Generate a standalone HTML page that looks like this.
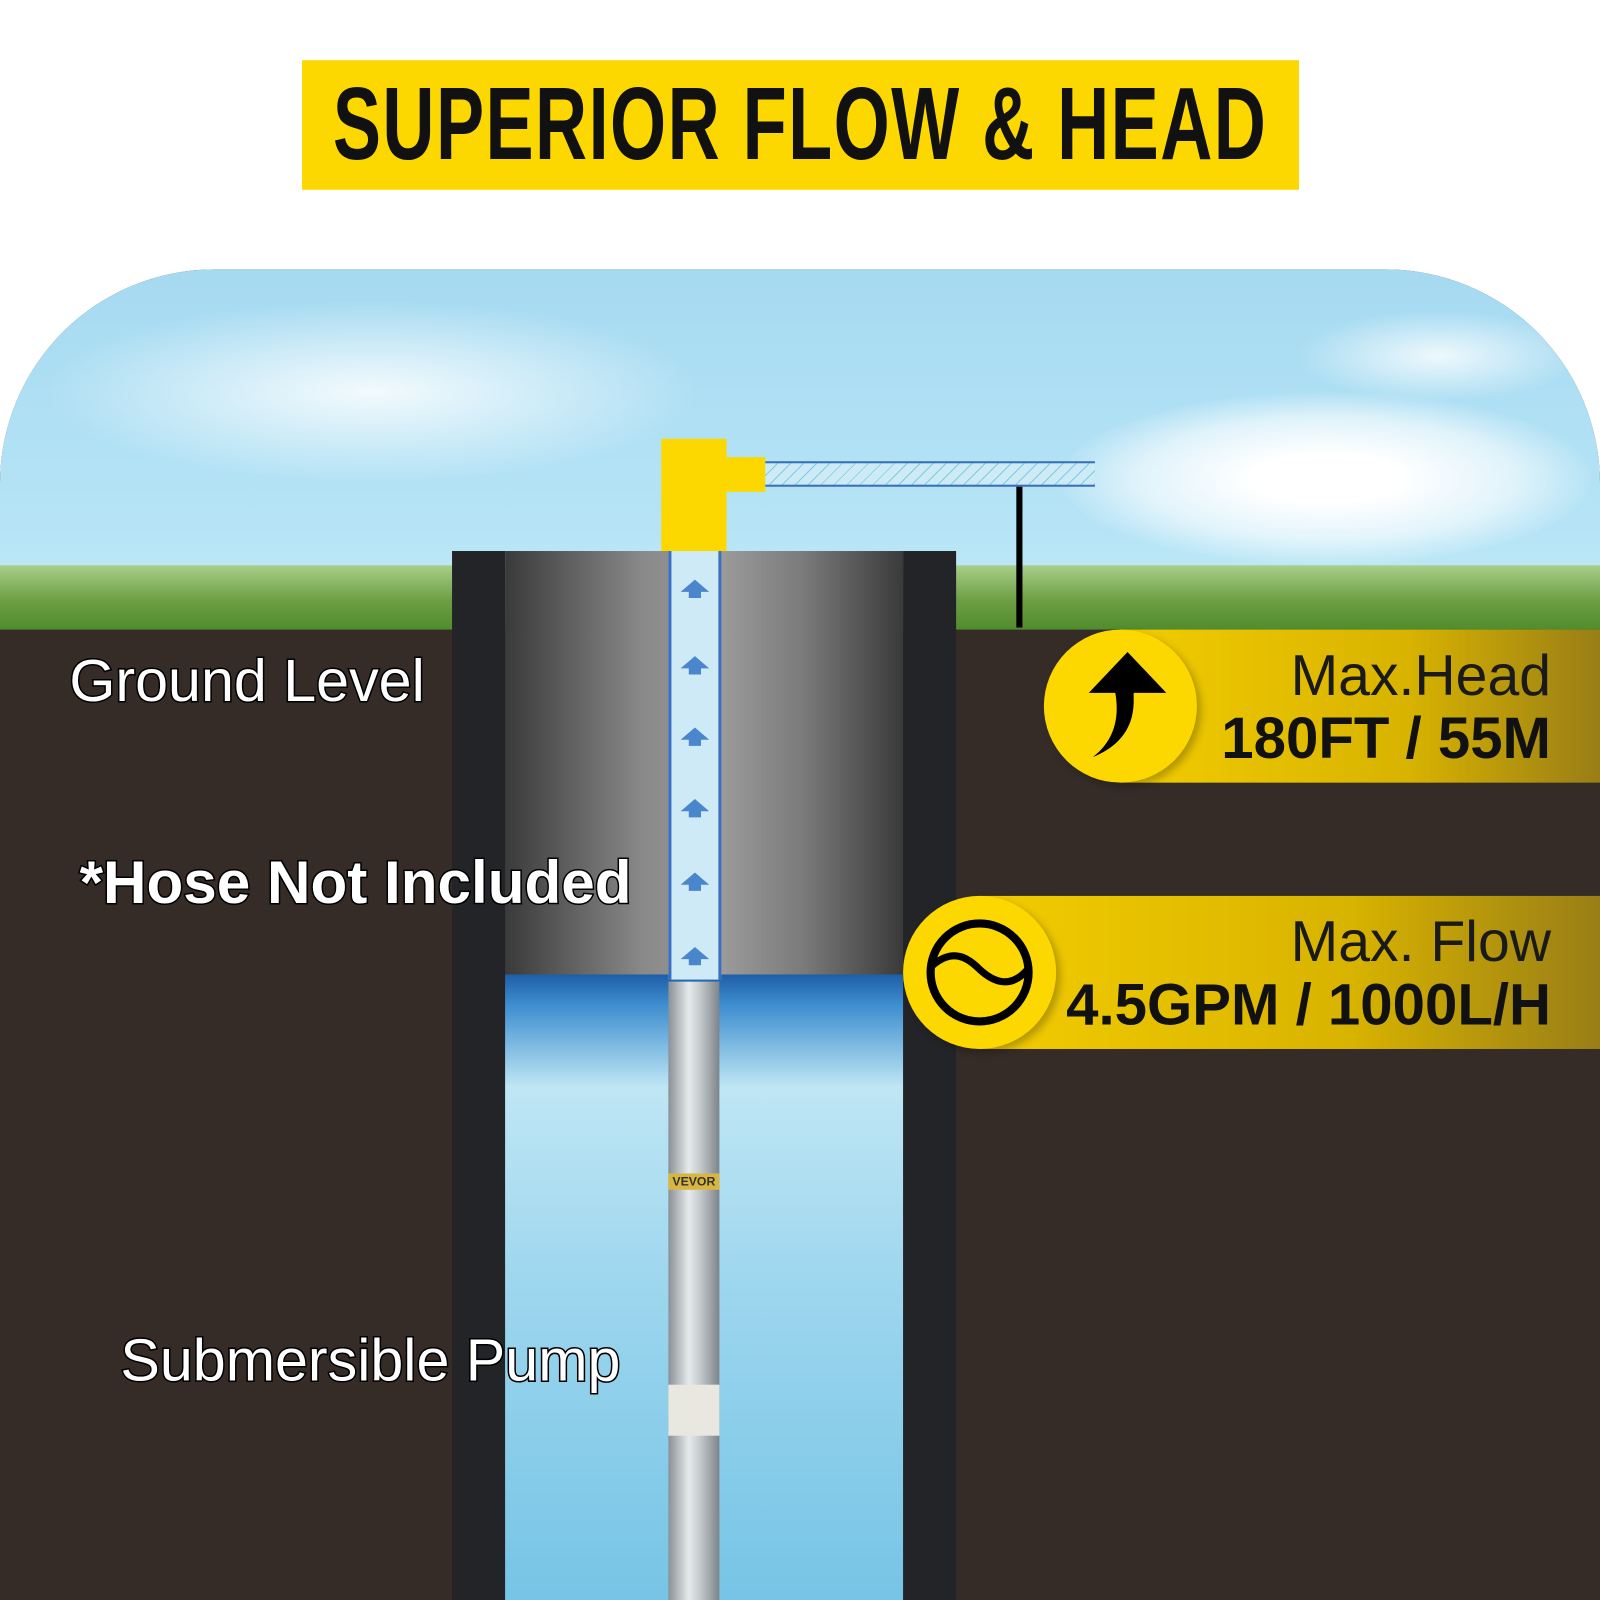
<!DOCTYPE html>
<html><head><meta charset="utf-8">
<style>
html,body{margin:0;padding:0;width:1600px;height:1600px;overflow:hidden;background:#fff}
#s{position:absolute;left:0;top:0;width:1568px;height:1568px;transform:scale(1.020408);transform-origin:0 0;font-family:"Liberation Sans",sans-serif}
.a{position:absolute}
.lbl{position:absolute;color:#fff;-webkit-text-stroke:3px #000;paint-order:stroke fill;white-space:nowrap}
</style></head><body><div id="s">
<div class="a" style="left:296px;top:59px;width:977px;height:127px;background:#fcd800"></div>
<div class="a" style="left:0;top:59px;width:1568px;height:127px;line-height:127px;text-align:center;font-weight:bold;font-size:101px;letter-spacing:2px;color:#111;white-space:nowrap"><span style="display:inline-block;transform:scaleX(0.7)">SUPERIOR FLOW &amp; HEAD</span></div>

<div class="a" style="left:0;top:264px;width:1568px;height:1304px;border-radius:210px 210px 0 0;overflow:hidden;background:#2f2723">
 <div class="a" style="left:0;top:0;width:1568px;height:360px;background:linear-gradient(#a6daf1,#b6e4f6 70%,#c4ecf8)"></div>
 <div class="a" style="left:40px;top:30px;width:650px;height:180px;border-radius:50%;background:radial-gradient(ellipse,rgba(255,255,255,.85),rgba(255,255,255,0) 70%)"></div>
 <div class="a" style="left:1270px;top:40px;width:280px;height:90px;border-radius:50%;background:radial-gradient(ellipse,rgba(255,255,255,.8),rgba(255,255,255,0) 70%)"></div>
 <div class="a" style="left:1040px;top:120px;width:520px;height:170px;border-radius:50%;background:radial-gradient(ellipse,rgba(255,255,255,1) 20%,rgba(255,255,255,.6) 50%,rgba(255,255,255,0) 72%)"></div>
 <div class="a" style="left:0;top:290px;width:1568px;height:66px;background:linear-gradient(#a9cf8a,#6fa046 50%,#4d8a2a)"></div>
 <div class="a" style="left:0;top:353px;width:1568px;height:951px;background:#352c27"></div>
</div>

<div class="a" style="left:443px;top:540px;width:52px;height:1028px;background:#222427"></div>
<div class="a" style="left:885px;top:540px;width:52px;height:1028px;background:#222427"></div>
<div class="a" style="left:495px;top:540px;width:390px;height:415px;background:linear-gradient(90deg,#3a3a3a,#8a8a8a 35%,#9a9a9a 55%,#7a7a7a 75%,#3a3a3a)"></div>
<div class="a" style="left:495px;top:955px;width:390px;height:613px;background:linear-gradient(#1f5ea8,#3f8fd0 5%,#bfe6f4 18%,#9dd6ee 50%,#76c4e6)"></div>
<div class="a" style="left:655px;top:540px;width:46px;height:420px;background:#cfeaf7;border-left:3px solid #3b6fc0;border-right:3px solid #3b6fc0"></div>
<svg class="a" style="left:655px;top:540px" width="52" height="420">
 <g fill="#4a86cc">
 <path d="M12 40 L26 28 L40 40 L32 40 L32 46 L20 46 L20 40Z"/>
 <path d="M12 115 L26 103 L40 115 L32 115 L32 121 L20 121 L20 115Z"/>
 <path d="M12 185 L26 173 L40 185 L32 185 L32 191 L20 191 L20 185Z"/>
 <path d="M12 255 L26 243 L40 255 L32 255 L32 261 L20 261 L20 255Z"/>
 <path d="M12 327 L26 315 L40 327 L32 327 L32 333 L20 333 L20 327Z"/>
 <path d="M12 400 L26 388 L40 400 L32 400 L32 406 L20 406 L20 400Z"/>
 </g></svg>
<div class="a" style="left:655px;top:962px;width:50px;height:606px;background:linear-gradient(90deg,#8a9196,#e6eaec 40%,#c8cdd0 60%,#7d8489)"></div>
<div class="a" style="left:655px;top:1150px;width:50px;height:16px;background:#d9b640;font-size:12px;font-weight:bold;color:#333;text-align:center;line-height:16px">VEVOR</div>
<div class="a" style="left:655px;top:1357px;width:50px;height:50px;background:#e8e8e0"></div>
<div class="a" style="left:648px;top:430px;width:64px;height:110px;background:#fdd800"></div>
<div class="a" style="left:710px;top:448px;width:40px;height:34px;background:#fdd800"></div>
<div class="a" style="left:750px;top:452px;width:323px;height:21px;border-top:2px solid #3a6fb8;border-bottom:2px solid #3a6fb8;background:repeating-linear-gradient(135deg,#cdebf7 0 8px,#7fcbe3 8px 9px)"></div>
<div class="a" style="left:996px;top:477px;width:6px;height:138px;background:#000"></div>

<div class="lbl" style="left:68px;top:634px;font-size:58px">Ground Level</div>
<div class="lbl" style="left:78px;top:831px;font-size:59px;font-weight:bold">*Hose Not Included</div>
<div class="lbl" style="left:118px;top:1300px;font-size:58px">Submersible Pump</div>

<div class="a" style="left:1098px;top:617px;width:470px;height:150px;background:linear-gradient(90deg,#f2cc00,#d8b300 60%,rgba(170,140,20,.85))"></div>
<div class="a" style="left:1023px;top:617px;width:150px;height:150px;border-radius:50%;background:#fdd800;box-shadow:4px 4px 8px rgba(0,0,0,.25)"></div>
<svg class="a" style="left:1023px;top:617px" width="150" height="150"><path d="M48 125 C80 112 88 90 88 70 L88 62 L120 62 L82 22 L44 62 L70 62 C74 85 70 108 48 125Z" fill="#000"/></svg>
<div class="a" style="right:48px;top:632px;font-size:56px;color:#1a1a1a;text-align:right;line-height:60px">Max.Head</div>
<div class="a" style="right:48px;top:692px;font-size:57px;font-weight:bold;color:#111;text-align:right;line-height:64px">180FT / 55M</div>

<div class="a" style="left:960px;top:878px;width:608px;height:150px;background:linear-gradient(90deg,#f2cc00,#d8b300 60%,rgba(170,140,20,.85))"></div>
<div class="a" style="left:885px;top:878px;width:150px;height:150px;border-radius:50%;background:#fdd800;box-shadow:4px 4px 8px rgba(0,0,0,.25)"></div>
<svg class="a" style="left:885px;top:878px" width="150" height="150"><circle cx="75" cy="75" r="48" fill="none" stroke="#000" stroke-width="8"/><path d="M29 68 C50 50 65 62 75 72 C88 84 105 92 122 72" fill="none" stroke="#000" stroke-width="7"/></svg>
<div class="a" style="right:48px;top:893px;font-size:56px;color:#1a1a1a;text-align:right;line-height:60px">Max. Flow</div>
<div class="a" style="right:48px;top:953px;font-size:57px;font-weight:bold;color:#111;text-align:right;line-height:64px">4.5GPM / 1000L/H</div>
</div></body></html>
